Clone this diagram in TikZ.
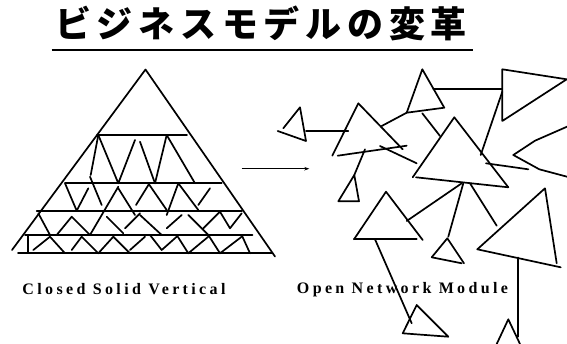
\documentclass[tikz,border=0pt]{standalone}
\usepackage{fontspec}
\setmainfont{Liberation Serif}
\newfontfamily\cjk[LetterSpace=16]{Noto Sans CJK JP}
\newfontfamily\labfont[LetterSpace=21]{Liberation Serif}
\usetikzlibrary{arrows.meta}
\begin{document}
\begin{tikzpicture}[x=1pt,y=-1pt,
  ln/.style={line width=1.7pt, line cap=round, line join=round},
  lab/.style={inner sep=0pt, font=\labfont\bfseries\fontsize{16}{18}\selectfont}]
\useasboundingbox (0,0) rectangle (567,343);
% title
\node[inner sep=0pt] (title) at (261,23) {\cjk\bfseries\fontsize{36}{40}\selectfont ビジネスモデルの変革};
\draw[line width=2.7pt] (51.7,50) -- (473.3,50);
% pyramid outline and layers
\draw[ln] (12,250) -- (145.5,69.5) -- (275,256.5);
\draw[ln] (97,135) -- (187,135);
\draw[ln] (65,183.3) -- (221.7,183.3);
\draw[ln] (36.7,211) -- (242,211);
\draw[ln] (25,235) -- (252.5,235);
\draw[ln] (18,253) -- (272,253);
\draw[ln] (28.3,235) -- (28.3,253);
% row 1
\draw[ln] (98.3,135) -- (90.7,175);
\draw[ln] (98.3,135) -- (118.3,183.3) -- (135,140);
\draw[ln] (140,141.7) -- (155,183.3);
\draw[ln] (166.7,135) -- (155,183.3);
\draw[ln] (166.7,135) -- (195,183.3);
% row 2
\draw[ln] (65,183.3) -- (76.7,210.7) -- (88.3,188.3);
\draw[ln] (90,176.7) -- (101.7,205);
\draw[ln] (90,235) -- (118.3,186.7);
\draw[ln] (118.3,188.3) -- (135,215);
\draw[ln] (136,205) -- (149,184);
\draw[ln] (148.3,183.3) -- (166.7,210);
\draw[ln] (166.7,215) -- (178.3,183.3) -- (198.3,210);
\draw[ln] (198.3,205) -- (210,188.3);
% row 3
\draw[ln] (38.3,213.3) -- (50,235);
\draw[ln] (56.7,235) -- (71.7,216.7) -- (90,235);
\draw[ln] (106.7,216.7) -- (123.3,233.3);
\draw[ln] (125,228.3) -- (140,213.3);
\draw[ln] (140,215) -- (161.7,235);
\draw[ln] (166.7,228.3) -- (181.7,215);
\draw[ln] (188.3,215) -- (208.3,235);
\draw[ln] (203.3,228.3) -- (220,211.7) -- (230,228.3) -- (241.7,213.3);
% row 4
\draw[ln] (33.3,250) -- (50,236.7) -- (65,253.3);
\draw[ln] (71.7,250) -- (81.7,236.7) -- (98.3,253.3) -- (113.3,236.7) -- (130,253.3);
\draw[ln] (130,250) -- (145,236.7);
\draw[ln] (150,235) -- (161.7,250) -- (176.7,236.7);
\draw[ln] (176.7,235) -- (188.3,253.3) -- (208.3,236.7);
\draw[ln] (208.3,235) -- (220,253.3) -- (241.7,236.7);
\draw[ln] (241.7,235) -- (250,253.3);
% arrow
\coordinate (a1) at (241.7,168.7);
\coordinate (a2) at (309.3,168.7);
\draw[line width=1.2pt,-{Stealth[length=5pt,width=3.5pt]}] (a1) -- (a2);
% network
\draw[ln] (283.3,128.3) -- (300,107.3) -- (306,141) -- (277.7,131);
\draw[ln] (306,131) -- (348.3,131);
\draw[ln] (332.3,155.7) -- (358.3,103.3) -- (402.7,149.3);
\draw[ln] (337.7,155.7) -- (406.7,145.7);
\draw[ln] (380,146) -- (416.7,163.3);
\draw[ln] (381.7,126) -- (406.7,112.7);
\draw[ln] (365,149.3) -- (354.3,175);
\draw[ln] (354.3,175) -- (338.3,201.3) -- (359,201.3) -- cycle;
\draw[ln] (406.7,112.7) -- (422.3,69.3) -- (444.3,107.7) -- cycle;
\draw[ln] (433.3,89.3) -- (502.3,89.3);
\draw[ln] (422.3,113.3) -- (440,136);
\draw[ln] (502.3,69.3) -- (566.7,79.3) -- (502.3,121) -- cycle;
\draw[ln] (502.3,91.7) -- (480.7,155);
\draw[ln] (412.7,177.3) -- (454.3,117.3) -- (508.3,187.3);
\draw[ln] (416,177.3) -- (508.3,187.3);
\draw[ln] (486,163.3) -- (528.3,169.3);
\draw[ln] (567,126.7) -- (535,140.7) -- (513.3,155) -- (539.3,169.3) -- (567,176.7);
\draw[ln] (461.7,183.3) -- (406.7,221);
\draw[ln] (463.3,183.3) -- (448.3,236.7);
\draw[ln] (470,183.3) -- (496.7,225.7);
\draw[ln] (354,239.3) -- (386,191.7) -- (422.7,240);
\draw[ln] (354,239.3) -- (416.7,239.3);
\draw[ln] (375,239.3) -- (411.7,323.3);
\draw[ln] (431.7,257.3) -- (447.3,238.3) -- (464,263.3);
\draw[ln] (431.7,257.3) -- (461.7,263.3);
\draw[ln] (556.7,263.3) -- (545,188.3) -- (477.3,249.3) -- (560.7,267.3);
\draw[ln] (518.3,257.5) -- (518.3,336.7);
\draw[ln] (402.7,333.3) -- (416.7,305) -- (448.3,336.7) -- cycle;
\draw[ln] (496.7,344) -- (508.3,319.3) -- (520,344);
% labels
\node[lab] (lab1) at (124,289.5) {Closed Solid Vertical};
\node[lab] (lab2) at (402.5,289.5) {Open Network Module};
\end{tikzpicture}
\end{document}
